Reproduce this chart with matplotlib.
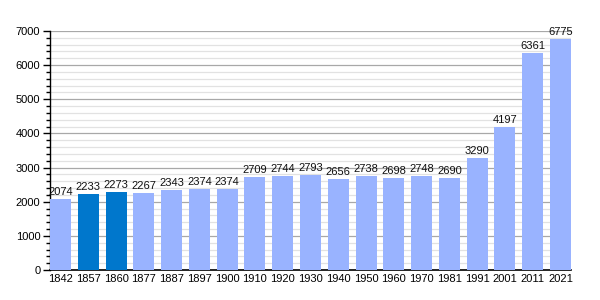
import matplotlib
matplotlib.use("Agg")
import matplotlib.pyplot as plt
from matplotlib.ticker import MultipleLocator

years = ["1842", "1857", "1860", "1877", "1887", "1897", "1900", "1910", "1920", "1930",
         "1940", "1950", "1960", "1970", "1981", "1991", "2001", "2011", "2021"]
population = [2074, 2233, 2273, 2267, 2343, 2374, 2374, 2709, 2744, 2793,
              2656, 2738, 2698, 2748, 2690, 3290, 4197, 6361, 6775]
highlight = ["1857", "1860"]

LIGHT = "#99b3ff"
DARK = "#0077cc"

plt.rcParams["font.family"] = ["Liberation Sans", "DejaVu Sans"]

fig = plt.figure(figsize=(6, 3), dpi=100)
ax = fig.add_axes([50 / 600, 0.1, 521 / 600, 0.797])

w = 0.755
x = list(range(len(years)))
colors = [DARK if y in highlight else LIGHT for y in years]
bars = ax.bar(x, population, width=w, color=colors, zorder=3)
for xi, v in zip(x, population):
    ax.text(xi, v + 60, str(v), ha="center", va="bottom", fontsize=8, color="#111", zorder=4)

ax.set_xlim(-w / 2, len(years) - 1 + w / 2)
ax.set_ylim(0, 7000)
ax.yaxis.set_major_locator(MultipleLocator(1000))
ax.yaxis.set_minor_locator(MultipleLocator(200))
ax.grid(which="major", axis="y", color="#a8a8a8", linewidth=0.9, zorder=1)
ax.grid(which="minor", axis="y", color="#e2e2e2", linewidth=0.9, zorder=0)
ax.set_xticks(x)
ax.set_xticklabels(years)
ax.tick_params(axis="x", length=0, pad=3, labelsize=8)
ax.tick_params(axis="y", which="major", length=5, width=1, labelsize=8, pad=2)
ax.tick_params(axis="y", which="minor", length=3, width=1)
for s in ("top", "right"):
    ax.spines[s].set_visible(False)
ax.spines["left"].set_linewidth(1)
ax.spines["bottom"].set_linewidth(1.2)

fig.savefig("out.png", dpi=100, facecolor="white")
